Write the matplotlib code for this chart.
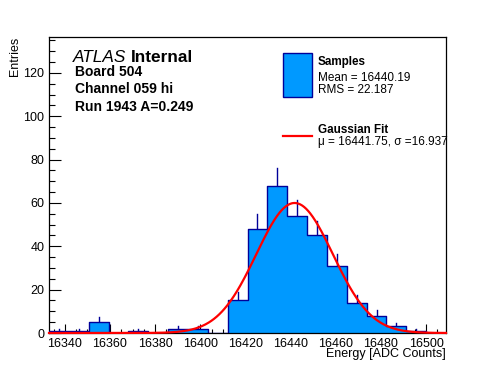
import numpy as np
import matplotlib
matplotlib.use("Agg")
import matplotlib.pyplot as plt
from matplotlib.ticker import MultipleLocator
from matplotlib.lines import Line2D
from matplotlib.patches import Rectangle

# ---- data ----
x_min = 16333.0
x_max = 16508.8
n_bins = 20
counts = [1, 1, 5, 0, 1, 0, 2, 2, 0, 15, 48, 68, 54, 45, 31, 14, 8, 3, 1, 0]
fit_amp = 60.0
fit_mu = 16441.75
fit_sigma = 16.937
y_max = 136.6

title_lines = ["Board 504", "Channel 059 hi", "Run 1943 A=0.249"]
legend_hist = ["Samples", "Mean = 16440.19", "RMS = 22.187"]
legend_fit = ["Gaussian Fit", "\u03bc = 16441.75, \u03c3 =16.937"]

plt.rcParams['font.family'] = ['Liberation Sans', 'DejaVu Sans']

W, H = 496, 372
fig = plt.figure(figsize=(W / 100, H / 100), dpi=100)
L, R, T, B = 49, 446, 37, 333
ax = fig.add_axes([L / W, 1 - B / H, (R - L) / W, (B - T) / H])

edges = np.linspace(x_min, x_max, n_bins + 1)
centers = 0.5 * (edges[:-1] + edges[1:])
c = np.array(counts, dtype=float)

fill_col = "#0099ff"
edge_col = "#000099"

# error bars (under the fill)
for xc, n in zip(centers, c):
    if n > 0:
        e = np.sqrt(n)
        ax.plot([xc, xc], [n - e, n + e], color=edge_col, lw=1.0, zorder=1)

ax.fill_between(edges, np.append(c, c[-1]), step="post", color=fill_col, lw=0, zorder=2)
ax.step(edges, np.append(c, c[-1]), where="post", color=edge_col, lw=1.0, zorder=3)

xf = np.linspace(x_min, x_max, 600)
yf = fit_amp * np.exp(-0.5 * ((xf - fit_mu) / fit_sigma) ** 2)
ax.plot(xf, yf, color="red", lw=1.6, zorder=4, clip_on=False)

ax.set_xlim(x_min, x_max)
ax.set_ylim(0, y_max)

ax.xaxis.set_major_locator(MultipleLocator(20))
ax.xaxis.set_minor_locator(MultipleLocator(5))
ax.yaxis.set_major_locator(MultipleLocator(20))
ax.yaxis.set_minor_locator(MultipleLocator(5))
ax.tick_params(axis='x', which='major', direction='in', length=6.4, width=0.8, pad=3.6, labelsize=9, top=False)
ax.tick_params(axis='x', which='minor', direction='in', length=3.2, width=0.8, top=False)
ax.tick_params(axis='y', which='major', direction='in', length=8.6, width=0.8, pad=3.4, labelsize=9, right=False)
ax.tick_params(axis='y', which='minor', direction='in', length=4.3, width=0.8, right=False)
for s in ax.spines.values():
    s.set_linewidth(0.9)

# axis titles
fig.text(R / W, 1 - 354.5 / H, "Energy [ADC Counts]", ha="right", va="center", fontsize=9)
fig.text(15 / W, 1 - T / H, "Entries", ha="center", va="top", rotation=90, fontsize=9)

# ATLAS label
t1 = fig.text(73 / W, 1 - 61.7 / H, "ATLAS", fontsize=12.4, style="italic", ha="left", va="baseline")
fig.canvas.draw()
bb = t1.get_window_extent()
fig.text((bb.x1 + 4) / (W), 1 - 61.7 / H, "Internal", fontsize=12.4, weight="bold", ha="left", va="baseline")
for i, s in enumerate(title_lines):
    fig.text(75 / W, 1 - (76 + 17.3 * i) / H, s, fontsize=10, weight="bold", ha="left", va="baseline")

# legend
fig.patches.append(Rectangle((283.3 / W, 1 - 96.7 / H), 28.4 / W, 43.4 / H, transform=fig.transFigure,
                             facecolor=fill_col, edgecolor=edge_col, lw=1.0))
fig.text(317.7 / W, 1 - 65 / H, legend_hist[0], fontsize=8.4, weight="bold", ha="left", va="baseline")
fig.text(317.7 / W, 1 - 80.7 / H, legend_hist[1], fontsize=8.5, ha="left", va="baseline")
fig.text(317.7 / W, 1 - 93.3 / H, legend_hist[2], fontsize=8.5, ha="left", va="baseline")
fig.lines.append(Line2D([283.3 / W, 311.7 / W], [1 - 136 / H, 1 - 136 / H], transform=fig.transFigure,
                        color="red", lw=1.6))
fig.text(317.7 / W, 1 - 132.7 / H, legend_fit[0], fontsize=8.4, weight="bold", ha="left", va="baseline")
fig.text(317.7 / W, 1 - 145 / H, legend_fit[1], fontsize=8.5, ha="left", va="baseline")

fig.savefig("out.png", dpi=100, facecolor="white")
